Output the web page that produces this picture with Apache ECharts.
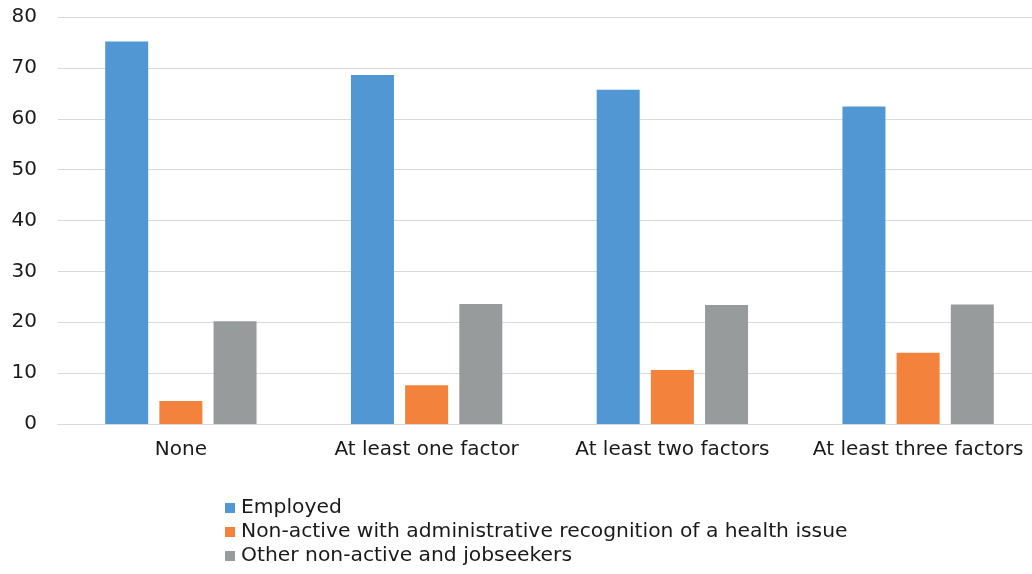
<!DOCTYPE html>
<html>
<head>
<meta charset="utf-8">
<script src="https://cdn.jsdelivr.net/npm/echarts@6/dist/echarts.min.js"></script>
<style>
  html, body { margin: 0; padding: 0; background: #fff; overflow: hidden; }
  #chart { width: 1032px; height: 574px; }
</style>
</head>
<body>
<div id="chart"></div>
<script>
// Share of people (%) by number of health/social factors
const categories = ['None', 'At least one factor', 'At least two factors', 'At least three factors'];
const seriesNames = [
  'Employed',
  'Non-active with administrative recognition of a health issue',
  'Other non-active and jobseekers'
];
const employed = [75.2, 68.6, 65.7, 62.4];
const nonActiveHealth = [4.5, 7.6, 10.6, 14.0];
const otherNonActive = [20.2, 23.6, 23.4, 23.5];
const yTicks = [0, 10, 20, 30, 40, 50, 60, 70, 80];

const colors = ['#5097d3', '#f2823c', '#989b9c'];
const font = '"DejaVu Sans", sans-serif';

const chart = echarts.init(document.getElementById('chart'));
const values = [employed, nonActiveHealth, otherNonActive];

chart.setOption({
  animation: false,
  color: colors,
  // the last category runs slightly past the right edge of the canvas
  grid: { left: 58, top: 17, width: 983, height: 407, containLabel: false, outerBoundsMode: 'none' },
  xAxis: {
    type: 'category',
    data: categories,
    axisLine: { lineStyle: { color: '#d9d9d9', width: 1 } },
    axisTick: { show: false },
    axisLabel: { color: '#1a1a1a', fontSize: 20, fontFamily: font, margin: 16, interval: 0, hideOverlap: false }
  },
  yAxis: {
    type: 'value',
    min: yTicks[0],
    max: yTicks[yTicks.length - 1],
    interval: 10,
    axisLine: { show: false },
    axisTick: { show: false },
    splitLine: { lineStyle: { color: '#d9d9d9', width: 1 } },
    axisLabel: { color: '#1a1a1a', fontSize: 20, fontFamily: font, margin: 21 }
  },
  legend: {
    orient: 'vertical',
    left: 220,
    top: 493,
    itemWidth: 10,
    itemHeight: 10,
    itemGap: 4,
    icon: 'rect',
    textStyle: { color: '#1a1a1a', fontSize: 20.3, fontFamily: font, padding: [0, 0, 0, 1] },
    data: seriesNames
  },
  series: seriesNames.map((name, i) => ({
    name: name,
    type: 'bar',
    data: values[i],
    barWidth: 43,
    barGap: '26%',
    itemStyle: { color: colors[i] }
  }))
});
</script>
</body>
</html>
